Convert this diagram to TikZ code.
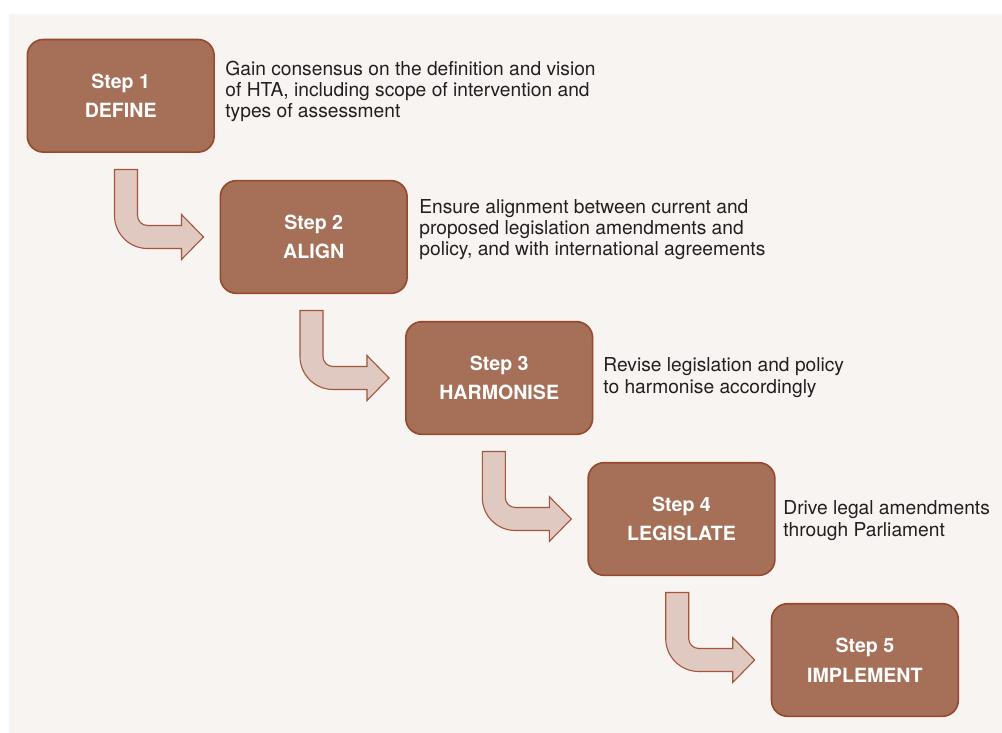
\documentclass[tikz,border=0pt]{standalone}
\usepackage{fontspec}
\setmainfont{TeX Gyre Heros}
\usepackage{tikz}
\usetikzlibrary{calc}
\definecolor{panel}{HTML}{F8F4F1}
\definecolor{boxfill}{HTML}{A56F58}
\definecolor{boxline}{HTML}{98492C}
\definecolor{arrfill}{HTML}{DFC9C0}
\definecolor{arrline}{HTML}{A4553A}
\definecolor{ink}{HTML}{231F20}

\newcommand{\bendarrow}[1]{%
  \begin{scope}[shift={($(#1.west)+(-16,0)$)}]
    \draw[arrline,fill=arrfill,line width=0.55pt] (-89,-67.5) -- (-66,-67.5) -- (-66,-21.5)
      .. controls (-66,-16) and (-61.5,-11.5) .. (-56,-11.5) -- (-22,-11.5) -- (-22,-22.5)
      -- (0,0) -- (-22,22.5) -- (-22,11.5) -- (-56,11.5)
      .. controls (-74.2,11.5) and (-89,-3.3) .. (-89,-21.5) -- cycle;
  \end{scope}}

\begin{document}
\begin{tikzpicture}[x=0.5pt,y=-0.5pt,
  stepbox/.style={rectangle,rounded corners=8pt,draw=boxline,fill=boxfill,line width=0.8pt,
    minimum width=93.4pt,minimum height=56.3pt,text=white,align=center,
    font=\fontsize{9.8}{14.8}\selectfont\bfseries},
  note/.style={anchor=base west,align=left,inner sep=0pt,text=ink,
    font=\fontsize{9.6}{10.7}\selectfont}
]
  \useasboundingbox (0,0) rectangle (1002,733);
  \fill[panel] (9,14) rectangle (1002,733);

  \node[stepbox] (b1) at (120.7,95.8) {Step 1\\DEFINE};
  \node[stepbox] (b2) at (313.7,237)  {Step 2\\ALIGN};
  \node[stepbox] (b3) at (499.2,378)  {Step 3\\HARMONISE};
  \node[stepbox] (b4) at (681.5,519)  {Step 4\\LEGISLATE};
  \node[stepbox] (b5) at (864.9,660)  {Step 5\\IMPLEMENT};

  \node[note] (d1) at (225,118) {Gain consensus on the definition and vision\\of HTA, including scope of intervention and\\types of assessment};
  \node[note] (d2) at (419,256) {Ensure alignment between current and\\proposed legislation amendments and\\policy, and with international agreements};
  \node[note] (d3) at (603,393) {Revise legislation and policy\\to harmonise accordingly};
  \node[note] (d4) at (783,536) {Drive legal amendments\\through Parliament};

  \bendarrow{b2}
  \bendarrow{b3}
  \bendarrow{b4}
  \bendarrow{b5}
\end{tikzpicture}
\end{document}
